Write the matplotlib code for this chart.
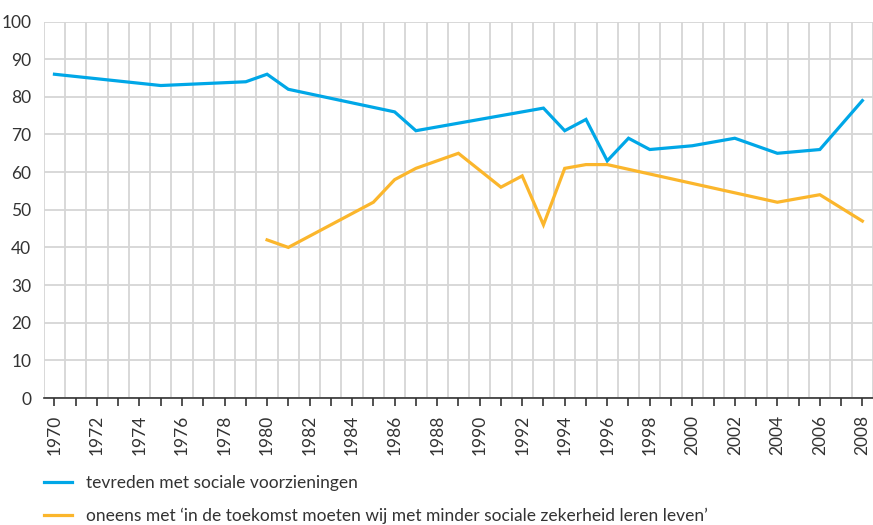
import matplotlib

matplotlib.use("Agg")
import matplotlib.pyplot as plt

# tevreden met sociale voorzieningen
tevreden_years = [1970, 1975, 1979, 1980, 1981, 1986, 1987, 1993, 1994, 1995,
                  1996, 1997, 1998, 2000, 2002, 2004, 2006, 2008]
tevreden_values = [86, 83, 84, 86, 82, 76, 71, 77, 71, 74,
                   63, 69, 66, 67, 69, 65, 66, 79]

# oneens met 'in de toekomst moeten wij met minder sociale zekerheid leren leven'
oneens_years = [1980, 1981, 1985, 1986, 1987, 1989, 1991, 1992, 1993, 1994,
                1995, 1996, 2004, 2006, 2008]
oneens_values = [42, 40, 52, 58, 61, 65, 56, 59, 46, 61,
                 62, 62, 52, 54, 47]

labels = [
    "tevreden met sociale voorzieningen",
    "oneens met \u2018in de toekomst moeten wij met minder sociale zekerheid leren leven\u2019",
]

BLUE = "#00a7e7"
ORANGE = "#fbb62c"
GRID = "#d6d6d6"
TEXT = "#333333"
FS = 12.5


def main() -> None:
    plt.rcParams["font.family"] = ["Lato", "DejaVu Sans"]
    fig = plt.figure(figsize=(8.73, 5.25), dpi=100)
    ax = fig.add_axes([0.0502, 0.2419, 0.9498, 0.7171])

    ax.plot(tevreden_years, tevreden_values, color=BLUE, lw=2.3,
            solid_joinstyle="miter", label=labels[0], zorder=3)
    ax.plot(oneens_years, oneens_values, color=ORANGE, lw=2.3,
            solid_joinstyle="miter", label=labels[1], zorder=3)

    ax.set_xlim(1969.5, 2008.32)
    ax.set_ylim(0, 100)

    years = list(range(1970, 2009))
    ax.set_xticks(years)
    ax.set_xticklabels([str(y) if y % 2 == 0 else "" for y in years],
                       rotation=90, fontsize=FS, color=TEXT)
    ax.set_xticks([y + 0.5 for y in range(1969, 2009)], minor=True)
    ax.set_yticks(range(0, 101, 10))
    ax.set_yticklabels([str(v) for v in range(0, 101, 10)], fontsize=FS, color=TEXT)

    ax.tick_params(axis="x", which="major", direction="out", length=6, width=1.2,
                   color=TEXT, pad=6)
    ax.tick_params(axis="x", which="minor", length=0)
    ax.tick_params(axis="y", length=0, pad=9)

    ax.grid(True, axis="x", which="minor", color=GRID, lw=1.3)
    ax.grid(True, axis="y", which="major", color=GRID, lw=1.3)
    ax.set_axisbelow(True)

    for side in ["left", "right", "top"]:
        ax.spines[side].set_visible(False)
    ax.spines["bottom"].set_color(TEXT)
    ax.spines["bottom"].set_linewidth(1.2)
    ax.spines["bottom"].set_zorder(4)

    fig.legend(loc="upper left", bbox_to_anchor=(0.0505, 0.096), frameon=False,
               fontsize=FS, handlelength=1.6, handletextpad=0.8,
               labelspacing=1.0, labelcolor=TEXT, borderaxespad=0, borderpad=0)

    fig.savefig("out.png", dpi=100)


if __name__ == "__main__":
    main()
